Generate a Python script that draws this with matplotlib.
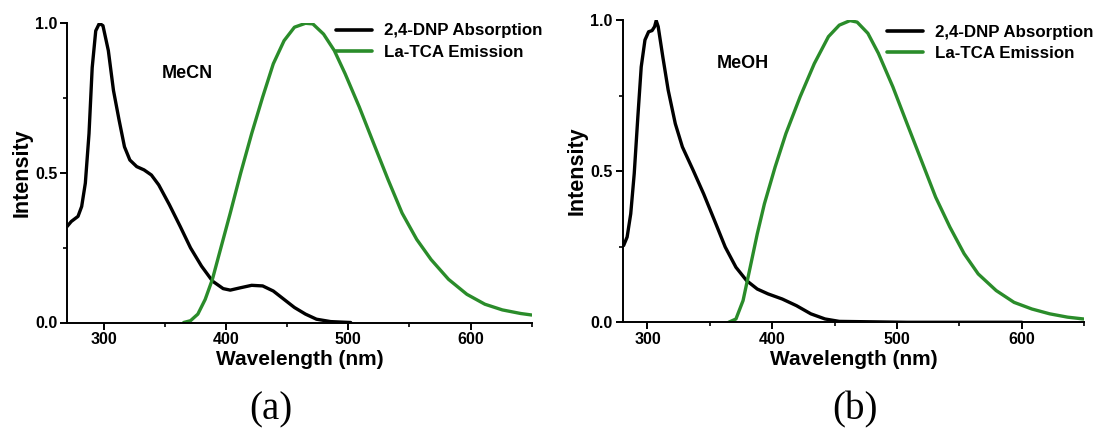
import matplotlib
matplotlib.use("Agg")
import matplotlib.pyplot as plt
from matplotlib.ticker import MultipleLocator, FormatStrFormatter

plt.rcParams['font.family'] = ['Liberation Sans', 'DejaVu Sans']

# ---- Data: panel (a) MeCN ----
abs_a_x = [270, 273.5, 279, 282, 285, 288, 290.6, 293.5, 296.5, 299.4, 303.8, 308, 312.6, 317,
           321.4, 327, 333, 339, 345, 353.7, 362.5, 371, 380, 389, 397.7, 403.5, 412, 421, 430,
           438.7, 447.5, 456, 465, 474, 485.6, 502]
abs_a_y = [0.32, 0.337, 0.354, 0.387, 0.465, 0.63, 0.85, 0.973, 0.998, 0.99, 0.907, 0.774, 0.675,
           0.586, 0.542, 0.52, 0.509, 0.492, 0.459, 0.393, 0.321, 0.249, 0.188, 0.138, 0.113,
           0.108, 0.116, 0.124, 0.122, 0.105, 0.077, 0.05, 0.028, 0.011, 0.003, 0.0]
em_a_x = [365.4, 371, 377, 383, 388.9, 394.7, 403.5, 412, 421, 430, 438.7, 447.5, 456, 465, 471,
          479.8, 488.6, 497.4, 509, 520.8, 532.6, 544, 556, 567.7, 582, 597, 611.7, 626, 641, 650]
em_a_y = [0.0, 0.006, 0.028, 0.077, 0.144, 0.232, 0.365, 0.498, 0.63, 0.752, 0.863, 0.94, 0.985,
          0.998, 0.996, 0.962, 0.907, 0.83, 0.719, 0.597, 0.476, 0.365, 0.277, 0.21, 0.144, 0.094,
          0.061, 0.042, 0.03, 0.025]

# ---- Data: panel (b) MeOH ----
abs_b_x = [280.9, 283.7, 286.6, 289.4, 292.3, 295, 298, 300.9, 303.7, 305.7, 307, 308.6, 312.3,
           316.6, 322.3, 328, 336.6, 345, 353.7, 362.3, 370.9, 379.4, 388, 396.6, 408, 419.4,
           430.9, 442.3, 453.7, 508, 600]
abs_b_y = [0.254, 0.282, 0.359, 0.492, 0.68, 0.845, 0.934, 0.961, 0.965, 0.978, 0.998, 0.978,
           0.878, 0.768, 0.657, 0.58, 0.503, 0.425, 0.337, 0.249, 0.182, 0.138, 0.11, 0.094, 0.077,
           0.055, 0.028, 0.011, 0.003, 0.0, 0.0]
em_b_x = [365, 370.9, 376.6, 382.3, 388, 393.7, 402.3, 410.9, 422.3, 433.7, 445, 453.7, 462.3, 468,
          476.6, 485, 496.6, 508, 519.4, 530.9, 542.3, 553.7, 565, 579.4, 593.7, 608, 622.3,
          636.6, 649.4]
em_b_y = [0.0, 0.011, 0.072, 0.182, 0.293, 0.392, 0.514, 0.624, 0.746, 0.856, 0.945, 0.983, 0.998,
          0.993, 0.956, 0.89, 0.779, 0.657, 0.536, 0.414, 0.315, 0.227, 0.16, 0.105, 0.066, 0.044,
          0.028, 0.017, 0.011]

series_labels = ["2,4-DNP Absorption", "La-TCA Emission"]
solvents = ["MeCN", "MeOH"]
panel_tags = ["(a)", "(b)"]
xticks = [300, 400, 500, 600]
yticks = [0.0, 0.5, 1.0]

GREEN = '#2a8c2a'

fig = plt.figure(figsize=(11.1, 4.3), dpi=100)
W, H = 1110, 430

def make_ax(l, t, r, b):
    return fig.add_axes([l / W, 1 - b / H, (r - l) / W, (b - t) / H])

axA = make_ax(67, 22.7, 531.7, 322.5)
axB = make_ax(622.5, 20, 1084.3, 322.3)

panels = [
    (axA, abs_a_x, abs_a_y, em_a_x, em_a_y, (270, 650), (336 / W, 1 - 23.5 / H)),
    (axB, abs_b_x, abs_b_y, em_b_x, em_b_y, (280, 650), (887 / W, 1 - 24.5 / H)),
]

for i, (ax, ax_x, ax_y, ex, ey, xl, legpos) in enumerate(panels):
    ax.plot(ax_x, ax_y, color='black', lw=2.4, label=series_labels[0],
            solid_joinstyle='round', solid_capstyle='round')
    ax.plot(ex, ey, color=GREEN, lw=2.4, label=series_labels[1],
            solid_joinstyle='round', solid_capstyle='round')
    ax.set_xlim(*xl)
    ax.set_ylim(0, 1.0)
    ax.set_xticks(xticks)
    ax.set_yticks(yticks)
    ax.xaxis.set_minor_locator(MultipleLocator(50))
    ax.yaxis.set_minor_locator(MultipleLocator(0.25))
    ax.yaxis.set_major_formatter(FormatStrFormatter('%.1f'))
    for s in ['top', 'right']:
        ax.spines[s].set_visible(False)
    for s in ['left', 'bottom']:
        ax.spines[s].set_linewidth(1.4)
    ax.tick_params(which='major', direction='out', length=5, width=1.4, labelsize=11.5, pad=2)
    ax.tick_params(which='minor', direction='out', length=3, width=1.2)
    for lab in ax.get_xticklabels() + ax.get_yticklabels():
        lab.set_fontweight('bold')
    ax.set_xlabel("Wavelength (nm)", fontsize=15, fontweight='bold', labelpad=2)
    ax.set_ylabel("Intensity", fontsize=15.5, fontweight='bold', labelpad=2)
    leg = ax.legend(loc='upper left', bbox_to_anchor=legpos, bbox_transform=fig.transFigure,
                    frameon=False, fontsize=12.2, handlelength=2.15, handletextpad=0.7,
                    labelspacing=0.38, borderaxespad=0, borderpad=0)
    for t in leg.get_texts():
        t.set_fontweight('bold')
    for line in leg.get_lines():
        line.set_linewidth(2.6)

fig.text(162 / W, 1 - 74 / H, solvents[0], fontsize=13, fontweight='bold', va='center', ha='left')
fig.text(717 / W, 1 - 63 / H, solvents[1], fontsize=13, fontweight='bold', va='center', ha='left')

fig.text(271 / W, 1 - 410 / H, panel_tags[0], fontsize=28, family=['Liberation Serif'],
         ha='center', va='center')
fig.text(855 / W, 1 - 410 / H, panel_tags[1], fontsize=28, family=['Liberation Serif'],
         ha='center', va='center')

fig.savefig("out.png", dpi=100)
